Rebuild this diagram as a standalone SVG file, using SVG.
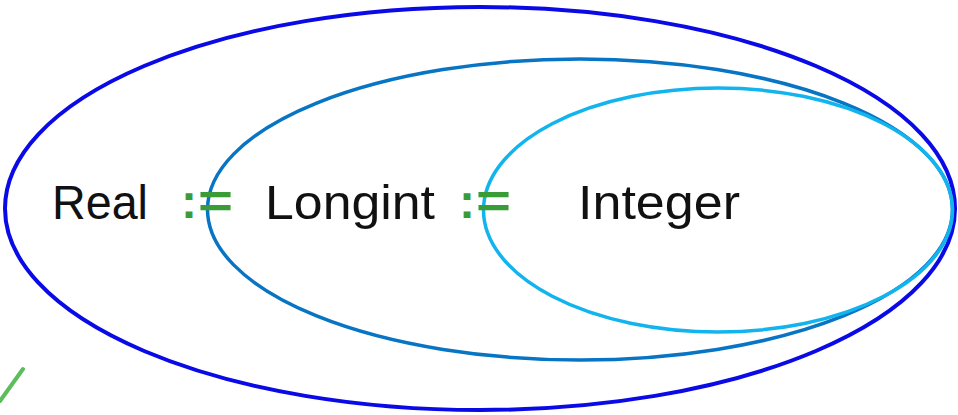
<svg xmlns="http://www.w3.org/2000/svg" width="958" height="415" viewBox="0 0 958 415">
<style>
.lbl{font-family:"Liberation Sans",Arial,sans-serif;font-size:49px;fill:#111}
.op{font-family:"Liberation Sans",Arial,sans-serif;font-size:48px;font-weight:bold;fill:#3a9c36}
.e{fill:none}
</style>
<rect width="958" height="415" fill="#fff"/>
<g id="real">
<ellipse class="e" cx="480" cy="208.5" rx="475" ry="201.5" stroke="#0a0ae6" stroke-width="4"/>
<text class="lbl" x="52" y="219" textLength="96" lengthAdjust="spacingAndGlyphs">Real</text>
</g>
<g id="longint">
<ellipse class="e" cx="580" cy="209.5" rx="372.5" ry="150.5" stroke="#0774c4" stroke-width="3.5"/>
<text class="lbl" x="265" y="219" textLength="170" lengthAdjust="spacingAndGlyphs">Longint</text>
</g>
<g id="integer">
<ellipse class="e" cx="718" cy="210" rx="234.5" ry="122" stroke="#12b4ee" stroke-width="3.5"/>
<text class="lbl" x="578" y="219" textLength="162" lengthAdjust="spacingAndGlyphs">Integer</text>
</g>
<g id="connectors">
<text class="op" x="181" y="218">:</text>
<text class="op" x="198" y="218" textLength="35" lengthAdjust="spacingAndGlyphs">=</text>
<text class="op" x="459" y="218">:</text>
<text class="op" x="476" y="218" textLength="35" lengthAdjust="spacingAndGlyphs">=</text>
</g>
<g id="mark">
<path d="M23,369 L0,401" stroke="#5cbd5c" stroke-width="4" stroke-linecap="round"/>
</g>
</svg>
